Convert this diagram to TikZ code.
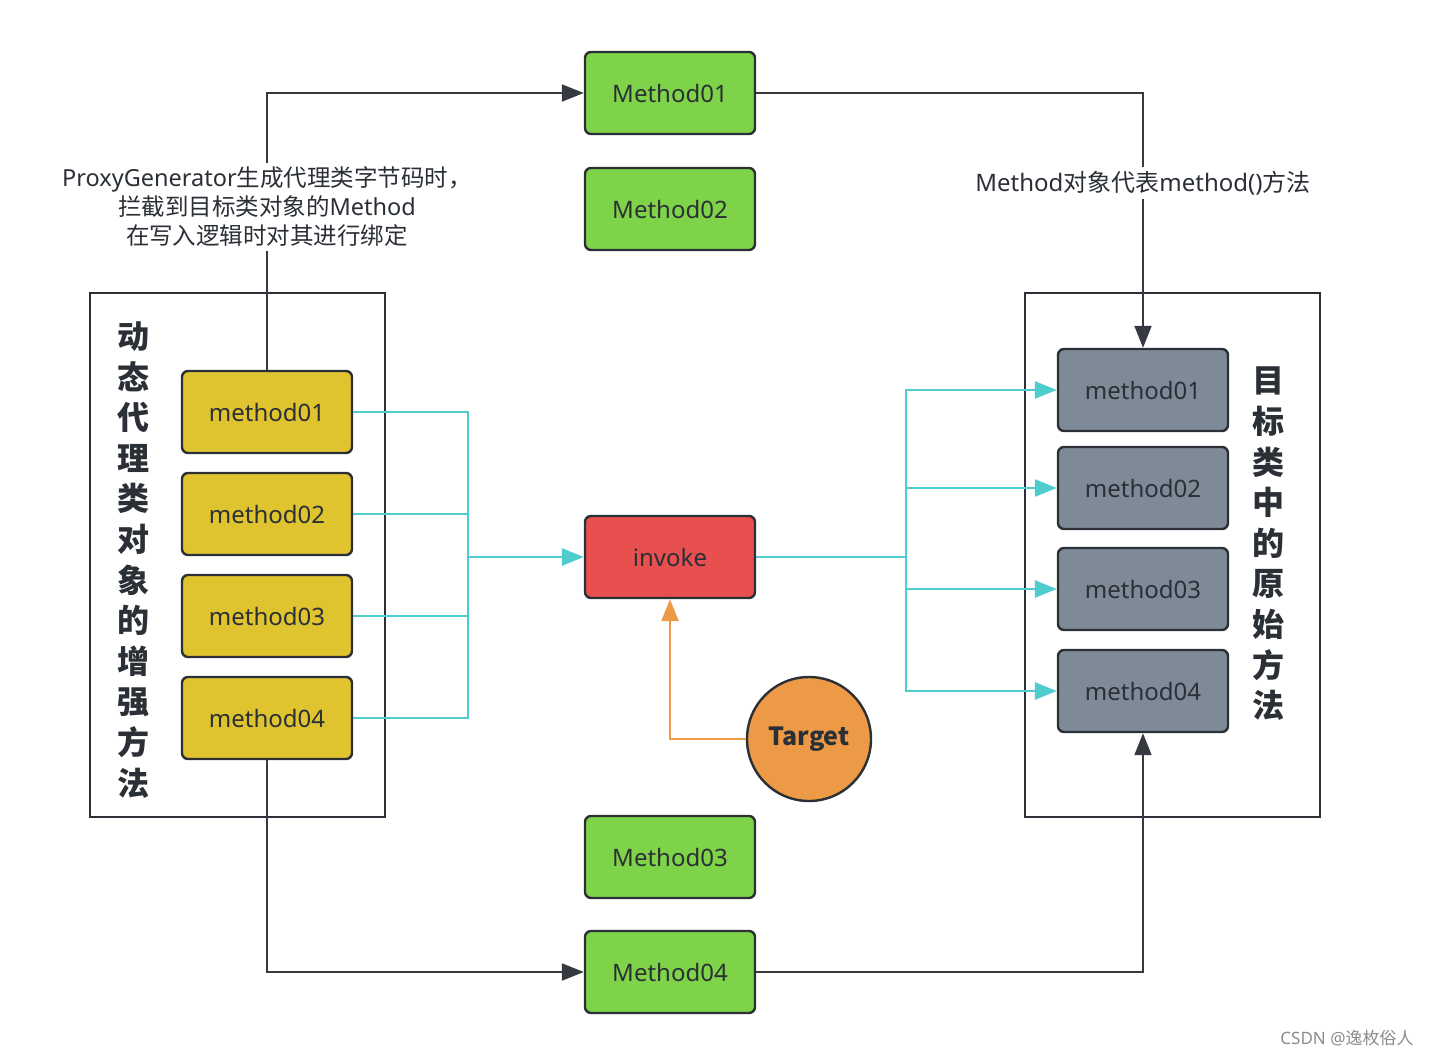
\documentclass[tikz,border=0pt]{standalone}
\usepackage{fontspec}
\setmainfont{Noto Sans}
\newfontfamily\cjk{Noto Sans CJK SC}
\usetikzlibrary{arrows.meta}

\definecolor{linedark}{HTML}{2B2F36}
\definecolor{greenbox}{HTML}{7ED348}
\definecolor{yellowbox}{HTML}{DFC430}
\definecolor{redbox}{HTML}{E84F4F}
\definecolor{graybox}{HTML}{7E8A98}
\definecolor{orangebox}{HTML}{EC9A45}
\definecolor{cyanline}{HTML}{4ECCCE}

\begin{document}
\begin{tikzpicture}[x=0.5pt,y=-0.5pt,
    method/.style={draw=linedark,line width=1.2pt,rounded corners=3pt,
        minimum width=85pt,minimum height=41pt,text=linedark,
        font=\fontsize{12}{14}\selectfont},
    blackflow/.style={draw=linedark!95,line width=1pt},
    cyanflow/.style={draw=cyanline,line width=1.4pt},
    tip/.style={-{Triangle[length=11pt,width=8.5pt]}}]
    \useasboundingbox (0,0) rectangle (1431,1057);
    % containers
    \draw[linedark,line width=1pt] (90,293) rectangle (385,817);
    \draw[linedark,line width=1pt] (1025,293) rectangle (1320,817);
    \node[text=linedark,align=center,font=\fontsize{16}{20.3}\selectfont\cjk\bfseries] (leftlabel) at (133,560)
        {动\\态\\代\\理\\类\\对\\象\\的\\增\\强\\方\\法};
    \node[text=linedark,align=center,font=\fontsize{16}{20.3}\selectfont\cjk\bfseries] (rightlabel) at (1268,544)
        {目\\标\\类\\中\\的\\原\\始\\方\\法};
    % method boxes
    \node[method,fill=greenbox] (M1) at (670,93) {Method01};
    \node[method,fill=greenbox] (M2) at (670,209) {Method02};
    \node[method,fill=greenbox] (M3) at (670,857) {Method03};
    \node[method,fill=greenbox] (M4) at (670,972) {Method04};
    \node[method,fill=yellowbox] (p1) at (267,412) {method01};
    \node[method,fill=yellowbox] (p2) at (267,514) {method02};
    \node[method,fill=yellowbox] (p3) at (267,616) {method03};
    \node[method,fill=yellowbox] (p4) at (267,718) {method04};
    \node[method,fill=graybox] (t1) at (1143,390) {method01};
    \node[method,fill=graybox] (t2) at (1143,488) {method02};
    \node[method,fill=graybox] (t3) at (1143,589) {method03};
    \node[method,fill=graybox] (t4) at (1143,691) {method04};
    \node[method,fill=redbox] (inv) at (670,557) {invoke};
    \node[circle,draw=linedark,line width=1.2pt,fill=orangebox,minimum size=62pt,
        text=linedark,font=\fontsize{12.5}{14}\selectfont\cjk\bfseries] (tgt) at (809,739) {Target};
    % black flow
    \draw[blackflow,tip] (p1.north) |- (M1.west);
    \draw[blackflow,tip] (M1.east) -| (t1.north);
    \draw[blackflow,tip] (p4.south) |- (M4.west);
    \draw[blackflow,tip] (M4.east) -| (t4.south);
    % cyan flow
    \coordinate (lbus) at (468,557);
    \coordinate (rbus) at (906,557);
    \foreach \i in {1,...,4}
        \draw[cyanflow] (p\i.east) -| (lbus);
    \draw[cyanflow,tip] (lbus) -- (inv.west);
    \draw[cyanflow] (inv.east) -- (rbus);
    \foreach \i in {1,...,4}
        \draw[cyanflow,tip] (rbus) |- (t\i.west);
    % target
    \draw[orangebox,line width=1.2pt,tip] (tgt.west) -| (inv.south);
    % notes
    \node[fill=white,align=center,inner sep=2pt,text=linedark,font=\fontsize{11.75}{14.5}\selectfont] (note1) at (267,207)
        {ProxyGenerator{\cjk 生成代理类字节码时，}\\{\cjk 拦截到目标类对象的}Method\\{\cjk 在写入逻辑时对其进行绑定}};
    \node[fill=white,inner sep=2pt,text=linedark,font=\fontsize{12}{14.5}\selectfont] (note2) at (1143,183)
        {Method{\cjk 对象代表}method(){\cjk 方法}};
    \node[text=black!45,font=\fontsize{8.5}{10}\selectfont] (mark) at (1347,1038) {CSDN @{\cjk 逸枚俗人}};
\end{tikzpicture}
\end{document}
